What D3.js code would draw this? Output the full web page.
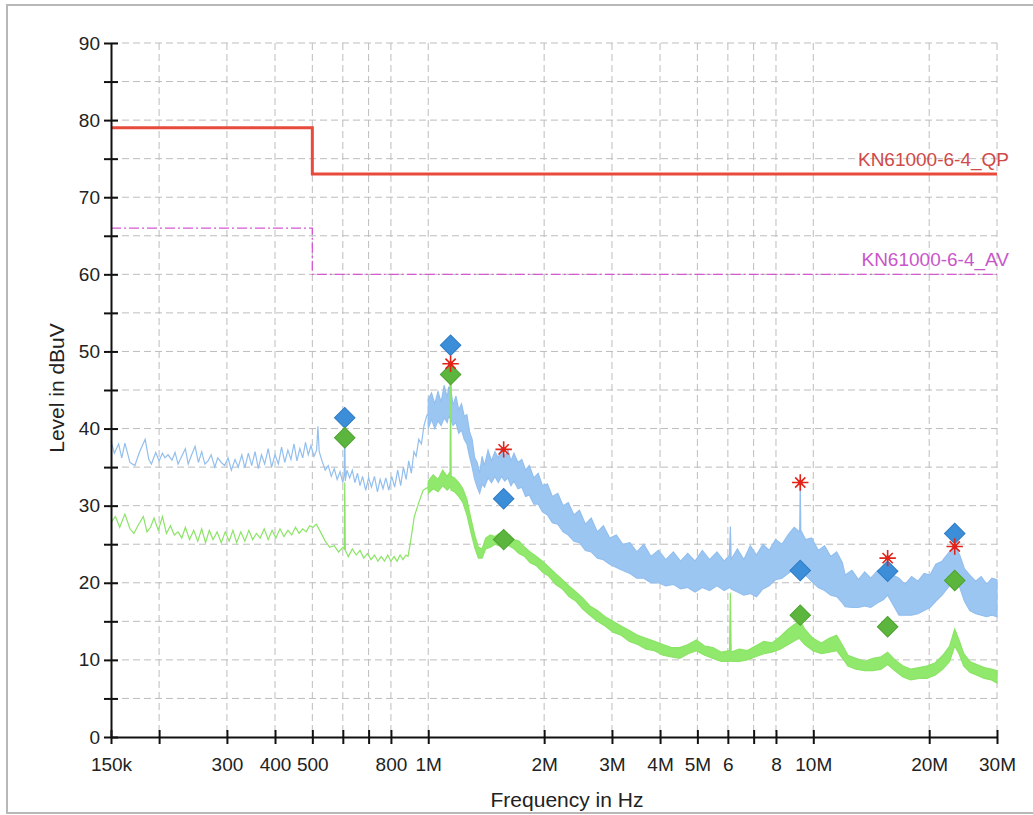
<!DOCTYPE html>
<head>
	<meta charset="utf-8">
	<title>Conducted emission scan</title>
	<script src="https://cdn.jsdelivr.net/npm/d3@7"></script>
	<style>
	body { margin:0; background:#fff; }
	text { font-family: "Liberation Sans", Arial, sans-serif; }
	.grid line { stroke:#bdbdbd; stroke-width:1; stroke-dasharray:7,4; }
	.axis path, .axis line { stroke:#111; stroke-width:2; }
	.axis text { font-size:19px; fill:#222; }
	.qpline { fill:none; stroke:#e84a3c; stroke-width:3; }
	.avline { fill:none; stroke:#d35ad3; stroke-width:1.3; stroke-dasharray:10,3,2,3; }
	</style>
</head>
<body>
<div class="chartContainer"></div>
<script>
// frequency in MHz, level in dBuV

// limit lines (step at 500 kHz)
var limitFreq=[0.15,0.5,30];
var qpLimit=[79,73,73];
var avLimit=[66,60,60];
var qpName="KN61000-6-4_QP";
var avName="KN61000-6-4_AV";

// axis ticks
var xTicks=[0.15,0.2,0.3,0.4,0.5,0.6,0.7,0.8,1,2,3,4,5,6,7,8,10,20,30];
var xLabels=["150k","","300","400","500","","","800","1M","2M","3M","4M","5M","6","","8","10M","20M","30M"];
var yTicks=[0,5,10,15,20,25,30,35,40,45,50,55,60,65,70,75,80,85,90];

// peak trace, low band [freq, level]
var blueLow=[
[0.150,38.4],[0.153,36.8],[0.157,38.0],[0.160,36.2],[0.163,38.1],[0.168,35.6],[0.173,35.2],[0.178,37.0],
[0.184,38.6],[0.188,36.0],[0.191,35.4],[0.196,36.9],[0.200,35.8],[0.204,36.8],[0.207,36.2],[0.211,36.6],
[0.216,35.9],[0.220,36.9],[0.224,35.4],[0.229,36.4],[0.234,37.4],[0.238,35.4],[0.243,36.6],[0.248,37.7],
[0.253,35.6],[0.258,37.0],[0.263,35.4],[0.268,35.8],[0.273,36.6],[0.279,35.0],[0.284,36.2],[0.290,35.6],
[0.296,35.2],[0.302,36.2],[0.308,34.6],[0.315,36.0],[0.321,35.0],[0.328,36.6],[0.334,34.9],[0.341,36.8],
[0.348,35.2],[0.355,37.0],[0.362,34.8],[0.369,36.6],[0.376,35.4],[0.384,37.4],[0.392,35.0],[0.400,36.6],
[0.408,35.4],[0.416,37.6],[0.424,35.6],[0.432,37.2],[0.440,36.0],[0.448,38.0],[0.456,35.8],[0.464,37.4],
[0.472,36.2],[0.480,38.2],[0.488,36.6],[0.496,37.8],[0.505,36.4],[0.513,37.2],[0.517,40.3],[0.521,37.0],
[0.530,35.8],[0.540,34.6],[0.550,35.2],[0.560,33.8],[0.570,34.8],[0.580,33.4],[0.590,34.4],[0.600,33.0],
[0.605,34.0],[0.607,40.2],[0.609,33.2],[0.615,34.6],[0.625,33.6],[0.635,34.6],[0.645,33.0],[0.655,34.2],
[0.665,32.6],[0.675,33.8],[0.688,32.0],[0.700,33.6],[0.712,32.4],[0.725,33.8],[0.738,31.8],[0.750,33.4],
[0.763,32.2],[0.776,33.6],[0.790,32.0],[0.804,33.8],[0.818,32.4],[0.833,34.6],[0.848,32.6],[0.862,35.0],
[0.876,33.4],[0.890,35.8],[0.904,34.2],[0.918,37.0],[0.930,36.4],[0.945,38.6],[0.960,38.0],[0.975,40.4],
[0.990,41.6],[1.000,42.0]
];
// peak trace, noisy band [freq, low, high]
var blueBand=[
[1.00,40.0,43.8],[1.02,41.2,44.6],[1.04,40.0,43.2],[1.06,41.0,44.8],[1.08,40.4,43.4],[1.10,41.4,45.6],
[1.12,40.8,44.0],[1.13,41.6,45.4],[1.138,41.4,44.8],[1.143,41.8,47.6],[1.148,41.0,44.6],[1.16,40.4,43.0],
[1.18,40.8,44.2],[1.20,39.4,42.4],[1.22,39.8,43.2],[1.24,38.6,41.6],[1.26,38.0,41.8],[1.28,36.4,39.6],
[1.30,35.0,38.6],[1.32,33.4,36.2],[1.34,32.4,35.6],[1.36,31.6,34.2],[1.38,32.8,36.4],[1.40,32.4,35.2],
[1.43,33.6,37.2],[1.46,33.0,35.8],[1.49,33.8,37.0],[1.52,33.0,36.2],[1.55,33.8,37.4],[1.58,33.2,36.4],
[1.61,33.6,37.2],[1.64,32.6,35.8],[1.67,33.2,36.8],[1.71,32.2,35.6],[1.75,32.4,36.0],[1.79,31.2,34.6],
[1.83,31.4,35.2],[1.88,30.2,33.6],[1.93,30.2,34.2],[1.98,29.2,32.6],[2.04,28.8,32.8],[2.10,27.8,31.2],
[2.17,27.6,31.6],[2.24,26.6,30.0],[2.31,26.2,30.4],[2.39,25.4,28.8],[2.47,25.2,29.4],[2.56,24.2,27.6],
[2.65,24.0,28.4],[2.75,23.2,26.6],[2.85,23.0,27.4],[2.96,22.4,25.8],[3.08,22.0,26.2],[3.20,21.6,25.0],
[3.34,21.2,25.2],[3.48,20.6,24.0],[3.63,20.6,25.0],[3.79,20.0,23.4],[3.96,20.0,24.2],[4.14,19.6,23.0],
[4.33,19.8,24.0],[4.52,19.2,22.8],[4.72,19.4,23.8],[4.93,18.8,22.8],[5.15,19.4,24.2],[5.38,19.0,23.0],
[5.62,19.6,24.0],[5.87,19.0,22.8],[6.06,19.4,23.6],[6.09,19.4,27.3],[6.12,19.2,23.0],[6.35,18.8,24.4],
[6.60,18.4,23.0],[6.86,18.6,24.8],[7.12,18.2,23.6],[7.40,19.2,25.0],[7.68,19.6,24.2],[7.98,20.4,25.6],
[8.29,20.6,25.0],[8.60,21.2,26.2],[8.92,21.8,27.2],[9.22,21.6,26.6],[9.25,21.8,33.0],[9.28,21.4,26.8],
[9.55,21.0,25.6],[9.90,20.2,25.8],[10.3,19.4,24.2],[10.7,19.0,24.8],[11.1,18.4,23.4],[11.5,18.2,24.0],
[11.9,17.4,22.6],[12.1,16.9,21.0],[12.6,16.8,21.6],[13.1,16.8,20.4],[13.6,17.0,21.4],[14.1,16.8,20.6],
[14.7,17.4,21.6],[15.2,17.8,21.8],[15.6,18.4,22.4],[16.1,17.2,21.0],[16.7,15.8,20.6],[17.3,15.8,19.8],
[18.0,15.8,20.8],[18.7,16.0,20.2],[19.4,16.4,21.2],[20.1,16.8,21.0],[20.8,17.6,22.4],[21.6,18.4,22.8],
[22.4,19.4,23.8],[23.3,20.4,24.8],[24.0,19.4,23.6],[24.7,17.6,21.8],[25.5,16.4,21.0],[26.4,16.0,20.2],
[27.3,15.8,20.8],[28.2,15.6,19.8],[29.1,15.8,20.6],[30.0,15.6,20.4]
];

// average trace, low band [freq, level]
var greenLow=[
[0.150,27.8],[0.154,28.6],[0.158,27.2],[0.163,28.9],[0.168,27.0],[0.172,26.4],[0.177,27.6],[0.182,28.6],
[0.186,26.6],[0.190,27.2],[0.194,28.4],[0.199,26.8],[0.204,28.6],[0.209,26.4],[0.214,27.4],[0.219,26.2],
[0.224,26.6],[0.229,25.8],[0.234,27.2],[0.240,25.6],[0.246,26.8],[0.252,25.4],[0.258,27.0],[0.264,25.2],
[0.270,26.8],[0.276,25.6],[0.283,26.6],[0.290,25.2],[0.297,26.6],[0.304,25.4],[0.311,26.8],[0.318,25.2],
[0.326,26.6],[0.334,25.4],[0.342,26.8],[0.350,25.6],[0.358,26.4],[0.366,25.8],[0.375,27.0],[0.384,25.6],
[0.393,26.8],[0.402,25.8],[0.412,27.0],[0.422,26.0],[0.432,26.8],[0.442,26.2],[0.452,27.2],[0.462,26.4],
[0.472,27.0],[0.482,26.6],[0.492,27.4],[0.502,27.2],[0.512,27.6],[0.525,26.6],[0.540,25.4],[0.555,24.6],
[0.570,24.8],[0.585,24.0],[0.600,24.6],[0.605,24.4],[0.607,33.0],[0.609,24.2],[0.620,23.4],[0.635,24.4],
[0.650,23.6],[0.665,24.2],[0.680,23.2],[0.695,23.8],[0.710,23.0],[0.725,23.6],[0.740,22.8],[0.755,23.4],
[0.770,22.8],[0.785,23.6],[0.800,22.8],[0.815,23.4],[0.830,22.8],[0.845,23.6],[0.860,23.0],[0.875,23.6],
[0.886,23.4],[0.900,25.4],[0.920,28.6],[0.945,30.4],[0.970,32.0],[1.000,32.4]
];
// average trace, noisy band [freq, low, high]
var greenBand=[
[1.00,31.6,33.2],[1.03,32.2,34.0],[1.06,31.8,33.4],[1.09,32.6,34.6],[1.12,32.0,33.8],[1.139,32.4,34.4],
[1.143,32.4,46.8],[1.147,32.0,33.8],[1.17,31.8,33.6],[1.20,31.2,33.0],[1.23,30.4,32.2],[1.26,28.8,30.8],
[1.29,26.6,28.4],[1.32,24.6,26.2],[1.35,23.2,24.6],[1.38,23.2,24.4],[1.41,24.4,25.8],[1.45,24.6,26.2],
[1.49,25.0,26.0],[1.53,24.8,26.4],[1.57,25.2,26.4],[1.62,24.8,26.2],[1.67,24.4,25.6],[1.72,23.8,25.4],
[1.78,23.4,24.6],[1.84,22.6,24.0],[1.91,22.2,23.4],[1.98,21.4,22.8],[2.06,20.8,22.0],[2.14,19.8,21.2],
[2.23,19.2,20.4],[2.32,18.2,19.6],[2.42,17.6,18.8],[2.52,16.6,18.0],[2.63,15.8,17.0],[2.75,15.0,16.4],
[2.88,14.4,15.6],[3.02,13.6,15.0],[3.17,13.2,14.4],[3.33,12.4,13.8],[3.50,12.0,13.2],[3.68,11.4,12.8],
[3.87,11.2,12.4],[4.07,10.6,12.0],[4.28,10.4,11.6],[4.50,10.2,11.6],[4.73,10.8,12.0],[4.97,11.2,12.6],
[5.22,10.6,11.8],[5.49,10.2,11.6],[5.77,9.8,11.0],[6.06,9.8,11.2],[6.09,10.0,18.7],[6.12,9.8,11.0],
[6.42,9.8,11.4],[6.74,10.0,11.2],[7.08,10.4,11.8],[7.44,10.8,12.4],[7.81,11.0,12.2],[8.20,11.4,13.0],
[8.61,12.0,14.0],[9.04,12.6,14.8],[9.20,12.8,15.2],[9.50,12.0,14.0],[9.98,11.2,12.8],[10.5,10.8,12.2],
[11.0,11.0,12.8],[11.5,11.2,13.2],[12.0,10.0,11.6],[12.3,9.2,10.6],[12.9,8.8,10.2],[13.6,8.6,9.8],
[14.3,8.6,10.2],[15.0,8.8,10.4],[15.6,9.4,11.0],[16.3,8.6,10.0],[17.1,7.8,9.2],[17.9,7.4,8.8],
[18.8,7.6,9.0],[19.7,7.6,9.2],[20.7,8.0,9.6],[21.7,8.8,10.6],[22.6,9.8,11.8],[23.3,11.8,14.0],
[23.9,10.8,12.6],[24.6,9.2,10.8],[25.5,8.4,9.8],[26.6,8.0,9.4],[27.8,7.6,9.0],[29.0,7.4,8.8],
[30.0,7.0,8.6]
];

// final measurement markers
var markFreq=[0.607,1.143,1.57,9.25,15.6,23.3];
var qpFinal=[41.4,50.8,30.9,21.6,21.5,26.4];
var avFinal=[38.8,47.0,25.6,15.8,14.3,20.3];
var starFreq=[1.143,1.57,9.25,15.6,23.3];
var starLevel=[48.4,37.3,33.0,23.2,24.7];

var plot=(function() {
	var totalWidth=1033, totalHeight=815;
	var margin={top:43, right:36, bottom:78, left:111};
	var left=margin.left, right=totalWidth-margin.right;
	var top=margin.top, bottom=totalHeight-margin.bottom;

	var x=d3.scaleLog().domain([0.15,30]).range([left,right]);
	var y=d3.scaleLinear().domain([0,90]).range([bottom,top]);

	var svg=d3.select(".chartContainer").append("svg")
		.attr("width",totalWidth)
		.attr("height",totalHeight);

	// outer frame
	svg.append("rect")
		.attr("x",7).attr("y",5)
		.attr("width",1040).attr("height",808)
		.attr("fill","none").attr("stroke","#b8b8b8").attr("stroke-width",2);

	// grid
	var grid=svg.append("g").attr("class","grid");
	grid.selectAll(".vg").data(xTicks.slice(1)).enter().append("line")
		.attr("x1",function(d){return x(d);}).attr("x2",function(d){return x(d);})
		.attr("y1",top).attr("y2",bottom);
	grid.selectAll(".hg").data(yTicks.slice(1)).enter().append("line")
		.attr("x1",left).attr("x2",right)
		.attr("y1",function(d){return y(d);}).attr("y2",function(d){return y(d);});

	// limit lines
	var step=d3.line()
		.curve(d3.curveStepAfter)
		.x(function(d){return x(d[0]);})
		.y(function(d){return y(d[1]);});
	svg.append("path").attr("class","qpline")
		.attr("d",step(limitFreq.map(function(f,i){return [f,qpLimit[i]];})));
	svg.append("path").attr("class","avline")
		.attr("d",step(limitFreq.map(function(f,i){return [f,avLimit[i]];})));

	svg.append("text").attr("x",1009).attr("y",y(73)-8)
		.attr("text-anchor","end").attr("font-size",19).attr("fill","#cf4a48")
		.text(qpName);
	svg.append("text").attr("x",1009).attr("y",y(60)-8)
		.attr("text-anchor","end").attr("font-size",19).attr("fill","#c956c9")
		.text(avName);

	// traces: thin part as a band with equal edges, then the noisy band
	var band=d3.area()
		.x(function(d){return x(d[0]);})
		.y0(function(d){return y(d[1]);})
		.y1(function(d){return y(d[2]);});
	var toRows=function(low,noisy) {
		return low.map(function(d){return [d[0],d[1],d[1]];}).concat(noisy);
	};
	svg.append("path")
		.attr("d",band(toRows(blueLow,blueBand)))
		.attr("fill","#9cc6f2").attr("stroke","#93bfee").attr("stroke-width",1.2);
	svg.append("path")
		.attr("d",band(toRows(greenLow,greenBand)))
		.attr("fill","#90e86c").attr("stroke","#8be466").attr("stroke-width",1.2);

	// markers
	var diamond=d3.symbol().type(d3.symbolSquare).size(210);
	svg.selectAll(".qpm").data(markFreq).enter().append("path")
		.attr("d",diamond)
		.attr("transform",function(d,i){return "translate("+x(d)+","+y(qpFinal[i])+") rotate(45)";})
		.attr("fill","#3d8ed8").attr("stroke","#2f7cc4").attr("stroke-width",1);
	svg.selectAll(".avm").data(markFreq).enter().append("path")
		.attr("d",diamond)
		.attr("transform",function(d,i){return "translate("+x(d)+","+y(avFinal[i])+") rotate(45)";})
		.attr("fill","#5cb53c").attr("stroke","#4da22f").attr("stroke-width",1);

	var stars=svg.selectAll(".star").data(starFreq).enter().append("g")
		.attr("transform",function(d,i){return "translate("+x(d)+","+y(starLevel[i])+")";});
	stars.append("path").attr("d",d3.symbol().type(d3.symbolPlus).size(90))
		.attr("fill","none").attr("stroke","#e2231a").attr("stroke-width",1.6);
	stars.append("path").attr("d",d3.symbol().type(d3.symbolTimes).size(70))
		.attr("fill","none").attr("stroke","#e2231a").attr("stroke-width",1.6);
	stars.append("circle").attr("r",2.5).attr("fill","#e2231a");

	// axes
	var xAxis=d3.axisBottom(x).tickValues(xTicks)
		.tickFormat(function(d,i){return xLabels[i];})
		.tickSize(7).tickSizeOuter(0).tickPadding(14);
	var gx=svg.append("g").attr("class","axis")
		.attr("transform","translate(0,"+bottom+")").call(xAxis);
	gx.selectAll(".tick line").attr("y1",-7);

	var yAxis=d3.axisLeft(y).tickValues(yTicks)
		.tickFormat(function(d){return d%10===0?d:"";})
		.tickSize(7).tickSizeOuter(0).tickPadding(4);
	var gy=svg.append("g").attr("class","axis")
		.attr("transform","translate("+left+",0)").call(yAxis);
	gy.selectAll(".tick line").attr("x1",7);

	// titles
	svg.append("text").attr("x",567).attr("y",807)
		.attr("text-anchor","middle").attr("font-size",21).attr("fill","#222")
		.text("Frequency in Hz");
	svg.append("text")
		.attr("transform","translate(64,388) rotate(-90)")
		.attr("text-anchor","middle").attr("font-size",21).attr("fill","#222")
		.text("Level in dBuV");
})();
</script>
</body>
</html>
